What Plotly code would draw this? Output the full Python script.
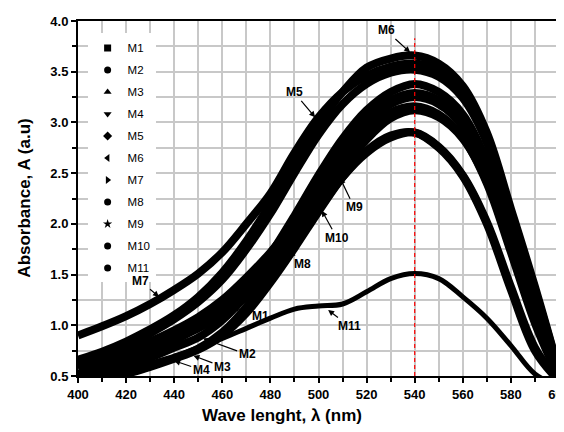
import plotly.graph_objects as go

wavelength = [400, 410, 420, 430, 440, 450, 460, 470, 480, 490, 500,
              510, 520, 530, 540, 550, 560, 570, 580, 590, 600]

M1 = [0.52, 0.57, 0.63, 0.72, 0.84, 0.99, 1.12, 1.36, 1.70, 2.08, 2.48, 2.84, 3.12, 3.30, 3.38, 3.30, 3.08, 2.62, 1.90, 1.15, 0.50]
M2 = [0.49, 0.54, 0.60, 0.68, 0.78, 0.88, 1.05, 1.30, 1.62, 2.00, 2.40, 2.76, 3.04, 3.22, 3.29, 3.22, 3.00, 2.55, 1.85, 1.12, 0.50]
M3 = [0.45, 0.49, 0.54, 0.61, 0.68, 0.77, 0.93, 1.18, 1.50, 1.88, 2.28, 2.64, 2.92, 3.10, 3.16, 3.08, 2.85, 2.40, 1.72, 1.02, 0.48]
M4 = [0.42, 0.47, 0.52, 0.59, 0.67, 0.76, 0.90, 1.12, 1.42, 1.76, 2.12, 2.46, 2.72, 2.87, 2.90, 2.75, 2.47, 2.00, 1.35, 0.75, 0.45]
M5 = [0.63, 0.71, 0.80, 0.92, 1.06, 1.23, 1.45, 1.75, 2.10, 2.50, 2.88, 3.18, 3.38, 3.49, 3.52, 3.45, 3.24, 2.80, 2.05, 1.30, 0.52]
M6 = [0.66, 0.74, 0.84, 0.96, 1.10, 1.28, 1.52, 1.83, 2.20, 2.62, 2.98, 3.30, 3.54, 3.63, 3.66, 3.58, 3.36, 2.90, 2.15, 1.38, 0.55]
M7 = [0.90, 0.99, 1.09, 1.21, 1.35, 1.51, 1.72, 2.00, 2.30, 2.70, 3.05, 3.30, 3.46, 3.55, 3.58, 3.52, 3.32, 2.86, 2.10, 1.35, 0.55]
M8 = [0.62, 0.68, 0.75, 0.84, 0.95, 1.08, 1.25, 1.47, 1.72, 2.02, 2.38, 2.72, 3.00, 3.18, 3.25, 3.18, 2.96, 2.52, 1.82, 1.10, 0.50]
M9 = [0.60, 0.66, 0.73, 0.82, 0.92, 1.04, 1.19, 1.38, 1.62, 1.92, 2.22, 2.53, 2.83, 3.04, 3.12, 3.05, 2.84, 2.42, 1.75, 1.05, 0.48]
M10 = [0.58, 0.63, 0.69, 0.77, 0.86, 0.97, 1.10, 1.28, 1.52, 1.82, 2.14, 2.46, 2.70, 2.85, 2.90, 2.76, 2.48, 2.02, 1.38, 0.78, 0.45]
M11 = [0.40, 0.46, 0.53, 0.61, 0.69, 0.78, 0.87, 0.97, 1.07, 1.16, 1.19, 1.21, 1.33, 1.46, 1.51, 1.46, 1.28, 1.07, 0.80, 0.52, 0.40]

series_names = ["M1", "M2", "M3", "M4", "M5", "M6", "M7", "M8", "M9", "M10", "M11"]
series_values = [M1, M2, M3, M4, M5, M6, M7, M8, M9, M10, M11]
symbols = ["square", "circle", "triangle-up", "triangle-down", "diamond",
           "triangle-left", "triangle-right", "circle", "star", "circle", "circle"]

peak_wavelength = 540
peak_line_top = 3.83

x_ticks = [400, 420, 440, 460, 480, 500, 520, 540, 560, 580, 600]
y_ticks = [0.5, 1.0, 1.5, 2.0, 2.5, 3.0, 3.5, 4.0]

FONT = "Liberation Sans, Arial, sans-serif"

fig = go.Figure()

for name, vals, sym in zip(series_names, series_values, symbols):
    width = 5 if name == "M11" else 8
    fig.add_trace(go.Scatter(
        x=wavelength, y=vals, mode="lines", line=dict(color="black", width=width, shape="spline"),
        showlegend=False, legendgroup=name, hoverinfo="skip"))

for name, sym in zip(series_names, symbols):
    fig.add_trace(go.Scatter(
        x=[None], y=[None], mode="markers", name=name, legendgroup=name,
        marker=dict(symbol=sym, size=7, color="black")))

# label annotations: (label, wavelength, absorbance, ax, ay)
labels = [
    ("M6", 538.1, 3.69, -24, -22),
    ("M5", 498.6, 3.05, -21, -25),
    ("M9", 509.0, 2.45, 14, 29),
    ("M10", 501.4, 2.13, 15, 27),
    ("M8", 485.4, 1.82, 19, 22),
    ("M1", 464.5, 1.18, 27, 9),
    ("M11", 504.0, 1.15, 21, 16),
    ("M7", 433.7, 1.28, -19, -16),
    ("M2", 452.0, 0.87, 44, 16),
    ("M3", 448.0, 0.70, 29, 11),
    ("M4", 440.0, 0.65, 27, 9),
]
annotations = []
for lab, lx, ly, ax, ay in labels:
    annotations.append(dict(
        x=lx, y=ly, xref="x", yref="y", text=lab, showarrow=True,
        ax=ax, ay=ay, arrowhead=2, arrowsize=1, arrowwidth=1.2, arrowcolor="black",
        font=dict(family=FONT, size=12, color="black", weight="bold"),
        bgcolor="rgba(0,0,0,0)"))

annotations.append(dict(
    text="Wave lenght, λ (nm)", xref="paper", yref="paper", x=0.4245, y=-0.111,
    showarrow=False, xanchor="center", yanchor="middle",
    font=dict(family=FONT, size=17, color="black", weight="bold")))
annotations.append(dict(
    text="Absorbance, A (a.u)", xref="paper", yref="paper", x=-0.112, y=0.5,
    showarrow=False, textangle=-90, xanchor="center", yanchor="middle",
    font=dict(family=FONT, size=17, color="black", weight="bold")))

axis_common = dict(
    showline=True, linecolor="black", linewidth=2, mirror=True,
    ticks="outside", ticklen=5, tickwidth=1.5, tickcolor="black",
    showgrid=True, gridcolor="#c8c8c8", gridwidth=1.5, zeroline=False,
    tickfont=dict(family=FONT, size=13, color="black", weight="bold"),
    automargin=False,
)

fig.update_layout(
    width=564, height=432,
    margin=dict(l=70, r=13, t=13, b=64),
    plot_bgcolor="white", paper_bgcolor="white",
    xaxis=dict(range=[400, 600], tickvals=x_ticks,
               minor=dict(dtick=10, tick0=400, showgrid=True, gridcolor="#c8c8c8", gridwidth=1.5,
                          ticks="outside", ticklen=4, tickcolor="black"),
               **axis_common),
    yaxis=dict(range=[0.5, 4.0], tickvals=y_ticks, tickformat=".1f",
               minor=dict(dtick=0.25, tick0=0.5, showgrid=True, gridcolor="#c8c8c8", gridwidth=1.5,
                          ticks="outside", ticklen=4, tickcolor="black"),
               **axis_common),
    legend=dict(x=0.02, y=0.965, xanchor="left", yanchor="top", bgcolor="white",
                font=dict(family=FONT, size=11.5, color="black"),
                traceorder="grouped", tracegroupgap=3, itemsizing="trace"),
    annotations=annotations,
    shapes=[dict(type="line", xref="x", yref="y", x0=peak_wavelength, x1=peak_wavelength,
                 y0=0.5, y1=peak_line_top, line=dict(color="red", width=1.2, dash="4px,3px"),
                 layer="above")],
    showlegend=True,
)

fig.write_html("out.html")
